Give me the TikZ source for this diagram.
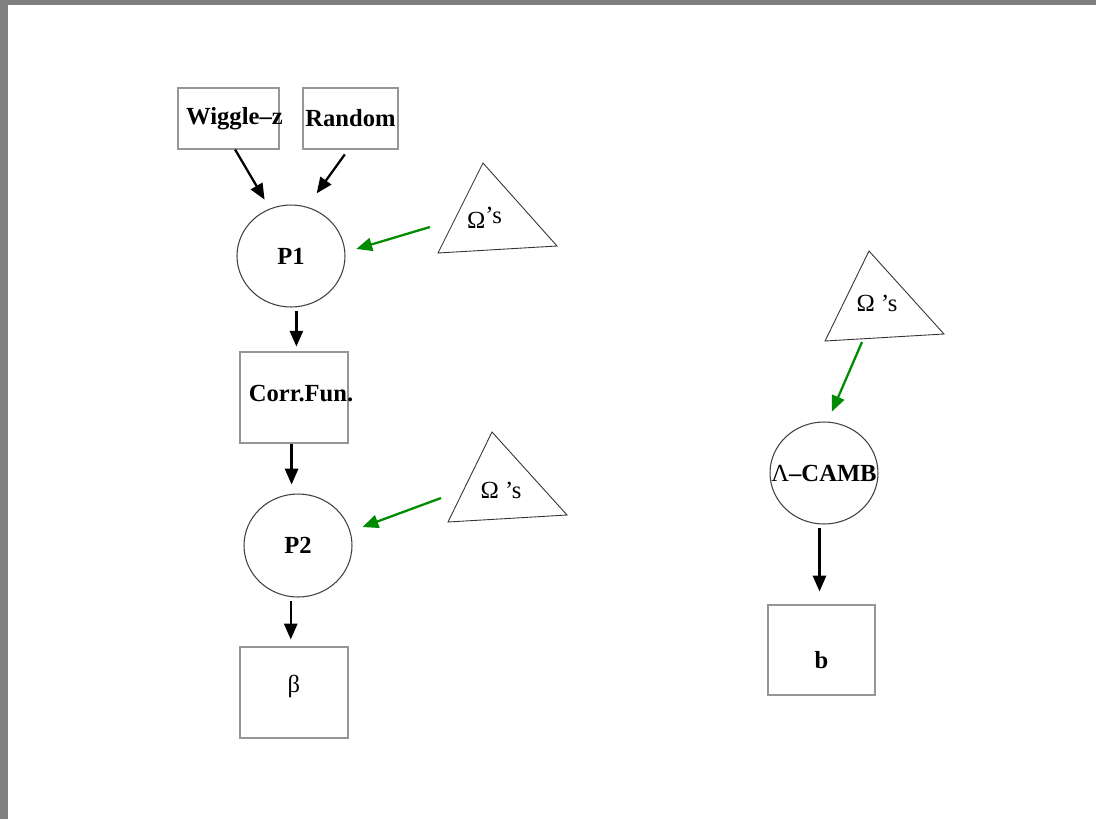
\documentclass[tikz,border=0pt]{standalone}
\usepackage{fontspec}
\setmainfont{Liberation Serif}
\usetikzlibrary{arrows.meta,shapes.geometric,calc}

\definecolor{framegray}{RGB}{128,128,128}
\definecolor{boxgray}{RGB}{150,150,150}
\definecolor{paramgreen}{RGB}{0,140,0}

\begin{document}
\begin{tikzpicture}[x=0.02cm, y=-0.02cm,
    every node/.style={font=\fontsize{14}{17}\selectfont},
    box/.style={draw=boxgray, line width=0.6pt, inner sep=0pt,
      font=\fontsize{14}{17}\selectfont\bfseries},
    blob/.style={draw=black!75, ellipse, line width=0.6pt, inner sep=0pt,
      minimum width=2.16cm, minimum height=2.04cm,
      font=\fontsize{14}{17}\selectfont\bfseries},
    omtri/.style={draw=black!80, line width=0.5pt},
    flow/.style={-{Triangle[length=9pt,width=7.5pt]}, line width=1.3pt},
    param/.style={flow, draw=paramgreen}]

    % Page frame
    \useasboundingbox (0,0) rectangle (1096,819);
    \fill[framegray] (0,0) rectangle (1096,819);
    \fill[white] (8,5) rectangle (1096,819);

    % Inputs
    \node[box, minimum width=2.02cm, minimum height=1.22cm] (wig) at (228.5,118.5)
      {\makebox[0pt]{\hspace{6.8pt}Wiggle--z}};
    \node[box, minimum width=1.9cm, minimum height=1.22cm] (rnd) at (350.5,118.5) {Random};

    % P1 circle
    \node[blob] (p1) at (291,256) {P1};

    % Corr.Fun. box
    \node[box, minimum width=2.16cm, minimum height=1.82cm,
      text height=9.4pt, text depth=5.3pt] (corr) at (294,397.5)
      {\makebox[0pt]{\hspace{8pt}Corr.Fun.}};

    % P2 circle
    \node[blob, minimum height=2.06cm] (p2) at (298,545.5) {P2};

    % beta box
    \node[box, minimum width=2.16cm, minimum height=1.82cm,
      text height=9.7pt, text depth=9.6pt,
      font=\fontsize{14}{17}\selectfont] (beta) at (294,692.5) {β};

    % Lambda-CAMB circle
    \node[blob] (camb) at (824,473) {\makebox[0pt]{{\mdseries Λ}--CAMB}};

    % b box
    \node[box, minimum width=2.14cm, minimum height=1.8cm,
      text height=21pt, text depth=0pt] (bbox) at (821.5,650) {b};

    % Omega triangles
    \draw[omtri] (483,163) -- (438,253) -- (557,246) -- cycle;
    \node (om1) at (484.5,218) {Ω\raisebox{3pt}{’s}};
    \draw[omtri] (492,432) -- (448,522) -- (567,515) -- cycle;
    \node (om2) at (501,490) {Ω ’s};
    \draw[omtri] (869,251) -- (825,341) -- (944,334) -- cycle;
    \node (om3) at (877,303) {Ω ’s};

    % Arrow tails
    \coordinate (om1tail) at (430,227);
    \coordinate (om2tail) at (441,498);
    \coordinate (om3tail) at (862,342);

    % Draw Arrows
    \draw[flow, shorten >=5.9pt] (wig.-78) -- (p1.114);
    \draw[flow, shorten <=3.4pt, shorten >=9.4pt] (rnd.-94) -- (p1.72);
    \draw[flow, shorten <=2.3pt, shorten >=2.8pt] (p1.-84) -- (p1.-84 |- corr.north);
    \draw[flow, shorten >=5.1pt] (corr.-93) -- (corr.-93 |- p2.north);
    \draw[flow, shorten <=2.3pt, shorten >=4pt] (p2.-98) -- (p2.-98 |- beta.north);
    \draw[flow, shorten <=2.3pt, shorten >=7.4pt] (camb.-95) -- (camb.-95 |- bbox.north);

    \draw[param, shorten >=6.5pt] (om1tail) -- (p1.4);
    \draw[param, shorten >=7.3pt] (om2tail) -- (p2.15);
    \draw[param, shorten >=6.2pt] (om3tail) -- (camb.86);

\end{tikzpicture}
\end{document}
